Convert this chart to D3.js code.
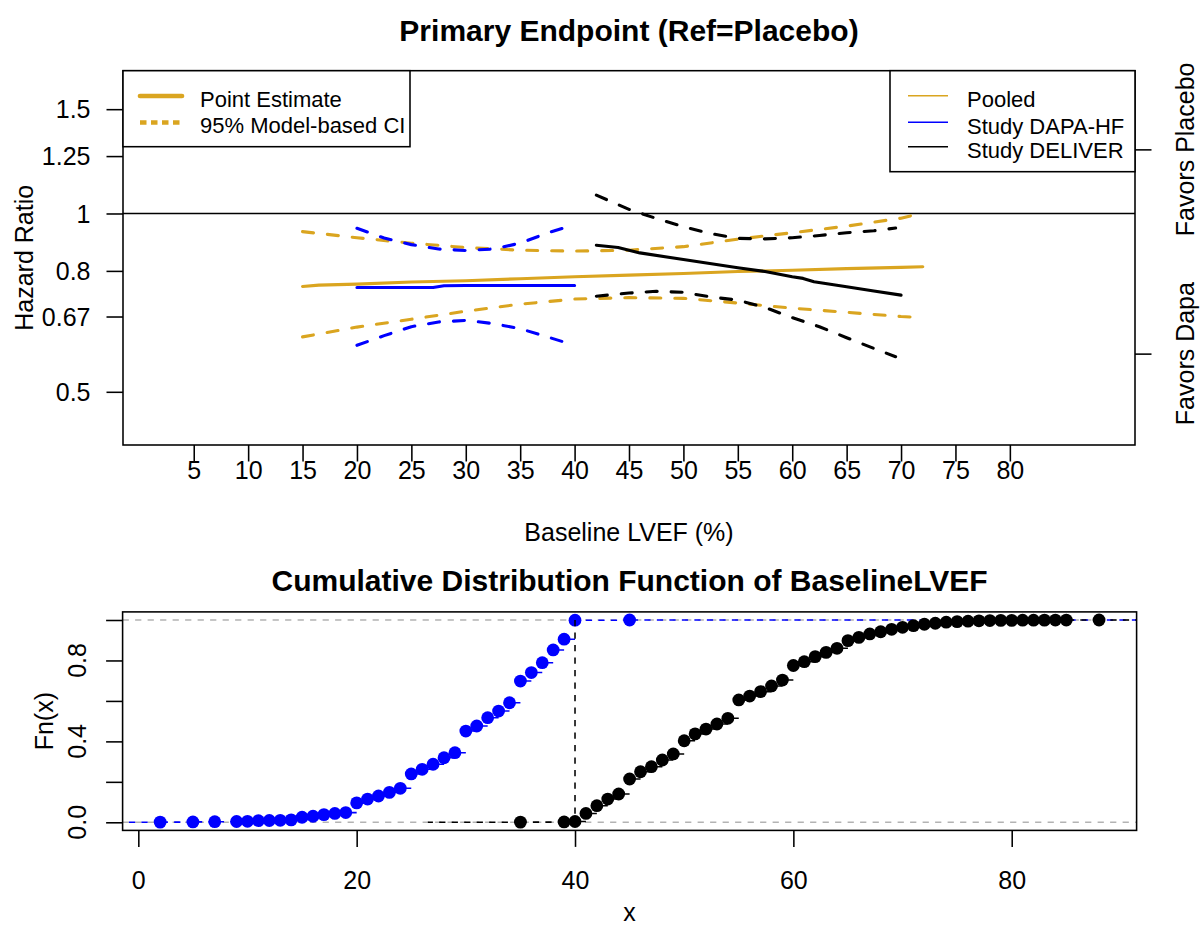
<!DOCTYPE html>
<html><head><meta charset="utf-8">
<script src="https://cdn.jsdelivr.net/npm/d3@7"></script>
<style>
body{margin:0;background:#fff}
svg{display:block;background:#fff}
text{font-family:"Liberation Sans",Arial,sans-serif;fill:#000}
</style>
</head><body>
<svg id="c" width="1203" height="929"></svg>
<script>
// ---------- Top panel data ----------
const hrTicks = [0.5, 0.67, 0.8, 1, 1.25, 1.5];
const hrTickLabels = ["0.5", "0.67", "0.8", "1", "1.25", "1.5"];
const lvefTicks = [5,10,15,20,25,30,35,40,45,50,55,60,65,70,75,80];
const favorsTicks = [1.283, 0.58];
const favorsLabels = ["Favors Placebo", "Favors Dapa"];

const pooledX  = [15,16.5,20,25,30,35,40,45,50,55,60,65,70,72];
const pooledHR = [0.753,0.757,0.760,0.766,0.770,0.776,0.782,0.787,0.792,0.798,0.802,0.807,0.811,0.813];
const pooledCIX = [15,20,25,30,35,40,45,50,55,60,65,70,72];
const pooledLo = [0.619,0.643,0.663,0.684,0.703,0.717,0.721,0.719,0.706,0.692,0.681,0.670,0.667];
const pooledHi = [0.932,0.910,0.891,0.876,0.867,0.864,0.867,0.879,0.905,0.928,0.952,0.982,1.002];

const dapaX  = [20,22.5,25,27,28,30,32.5,35,37.5,40];
const dapaHR = [0.750,0.750,0.750,0.750,0.755,0.756,0.756,0.756,0.756,0.756];
const dapaCIX = [20,22.5,25,27.5,30,32.5,35,37.5,40];
const dapaLo = [0.599,0.622,0.644,0.656,0.660,0.652,0.639,0.619,0.599];
const dapaHi = [0.944,0.909,0.886,0.871,0.866,0.871,0.891,0.927,0.958];

const deliverX  = [42,44,46,50,55,57.5,60,61,62,65,67.5,70];
const deliverHR = [0.884,0.876,0.858,0.836,0.810,0.798,0.782,0.777,0.767,0.752,0.740,0.728];
const deliverCIX = [42,45,47.5,50,52.5,55,57.5,60,62.5,65,67.5,69.5];
const deliverLo = [0.725,0.734,0.739,0.736,0.723,0.714,0.694,0.667,0.644,0.617,0.592,0.573];
const deliverHi = [1.074,1.016,0.981,0.950,0.925,0.908,0.906,0.910,0.918,0.928,0.935,0.945];

const legendLeftLabels = ["Point Estimate", "95% Model-based CI"];
const legendRightLabels = ["Pooled", "Study DAPA-HF", "Study DELIVER"];

// ---------- Bottom panel data ----------
const cdfXTicks = [0,20,40,60,80];
const cdfYTicks = [0,0.2,0.4,0.6,0.8,1];
const cdfYLabels = ["0.0","0.4","0.8"];
const cdfYLabelVals = [0,0.4,0.8];
const refLine = 40;

const dapaLVEF = [2,5,7,9,10,11,12,13,14,15,16,17,18,19,20,21,22,23,24,25,26,27,28,29,30,31,32,33,34,35,36,37,38,39,40,45];
const dapaFn   = [0.001,0.002,0.003,0.004,0.005,0.008,0.009,0.010,0.012,0.025,0.030,0.038,0.044,0.048,0.096,0.115,0.130,0.148,0.168,0.239,0.262,0.287,0.319,0.344,0.451,0.476,0.517,0.550,0.591,0.698,0.740,0.789,0.852,0.905,0.999,1.0];

const deliverLVEF = [35,39,40,41,42,43,44,45,46,47,48,49,50,51,52,53,54,55,56,57,58,59,60,61,62,63,64,65,66,67,68,69,70,71,72,73,74,75,76,77,78,79,80,81,82,83,84,85,88];
const deliverFn   = [0.001,0.002,0.004,0.044,0.082,0.115,0.140,0.214,0.250,0.275,0.308,0.338,0.403,0.437,0.461,0.486,0.514,0.605,0.624,0.646,0.674,0.703,0.775,0.794,0.819,0.840,0.860,0.898,0.914,0.931,0.942,0.954,0.964,0.972,0.979,0.984,0.989,0.992,0.994,0.996,0.997,0.998,0.998,0.999,0.999,0.9993,0.9995,0.9997,1.0];

// ---------- Styles ----------
const GOLD = "#DAA520", BLUE = "#0000FF", BLACK = "#000000";
const LW1 = 1.56, LW2 = 3.1, LW3 = 4.7;
const DASH2 = "11,14";
const DASH1 = "6.25,6.25";

const svg = d3.select("#c");
svg.append("rect").attr("width",1203).attr("height",929).attr("fill","#fff");

// ================= TOP PANEL =================
const P1 = {l:123, r:1135, t:70.7, b:445};
const x1 = d3.scaleLinear().domain([-1.5, 91.5]).range([P1.l, P1.r]);
const y1 = d3.scaleLog().domain([0.4066, 1.742]).range([P1.b, P1.t]);

svg.append("defs").append("clipPath").attr("id","clip1")
  .append("rect").attr("x",P1.l).attr("y",P1.t).attr("width",P1.r-P1.l).attr("height",P1.b-P1.t);
d3.select("defs").append("clipPath").attr("id","clip2")
  .append("rect").attr("x",122.6).attr("y",611.9).attr("width",1136.6-122.6).attr("height",830.4-611.9);

const g1 = svg.append("g").attr("clip-path","url(#clip1)");

// reference line HR = 1
g1.append("line").attr("x1",P1.l).attr("x2",P1.r).attr("y1",y1(1)).attr("y2",y1(1))
  .attr("stroke","#000").attr("stroke-width",LW1);

function drawLine(g, xs, ys, color, dashed){
  const line = d3.line().x((d,i)=>x1(xs[i])).y(d=>y1(d));
  g.append("path").datum(ys).attr("d",line).attr("fill","none")
    .attr("stroke",color).attr("stroke-width",LW2)
    .attr("stroke-linecap","round").attr("stroke-linejoin","round")
    .attr("stroke-dasharray", dashed ? DASH2 : null);
}
drawLine(g1, pooledX, pooledHR, GOLD, false);
drawLine(g1, pooledCIX, pooledLo, GOLD, true);
drawLine(g1, pooledCIX, pooledHi, GOLD, true);
drawLine(g1, dapaX, dapaHR, BLUE, false);
drawLine(g1, dapaCIX, dapaLo, BLUE, true);
drawLine(g1, dapaCIX, dapaHi, BLUE, true);
drawLine(g1, deliverX, deliverHR, BLACK, false);
drawLine(g1, deliverCIX, deliverLo, BLACK, true);
drawLine(g1, deliverCIX, deliverHi, BLACK, true);

// left axis
const yAxis1 = d3.axisLeft(y1).tickValues(hrTicks).tickFormat((d,i)=>hrTickLabels[i]).tickSize(16.5).tickPadding(16);
const ya1 = svg.append("g").attr("transform",`translate(${P1.l},0)`).call(yAxis1);
ya1.select(".domain").remove();
ya1.selectAll("line").attr("stroke","#000").attr("stroke-width",LW1);
ya1.selectAll("text").attr("font-size",25).attr("dy","0.35em").style("font-family","Liberation Sans, Arial, sans-serif");

// bottom axis
const xAxis1 = d3.axisBottom(x1).tickValues(lvefTicks).tickFormat(d3.format("d")).tickSize(16.5).tickPadding(0);
const xa1 = svg.append("g").attr("transform",`translate(0,${P1.b})`).call(xAxis1);
xa1.select(".domain").remove();
xa1.selectAll("line").attr("stroke","#000").attr("stroke-width",LW1);
xa1.selectAll("text").attr("font-size",25).attr("y",25).attr("dy","0.35em").style("font-family","Liberation Sans, Arial, sans-serif");

// right axis
const yAxisR = d3.axisRight(y1).tickValues(favorsTicks).tickFormat("").tickSize(16.5);
const yr = svg.append("g").attr("transform",`translate(${P1.r},0)`).call(yAxisR);
yr.select(".domain").remove();
yr.selectAll("line").attr("stroke","#000").attr("stroke-width",LW1);
favorsTicks.forEach((v,i)=>{
  svg.append("text").attr("transform",`translate(1185,${y1(v)}) rotate(-90)`)
    .attr("text-anchor","middle").attr("dy","0.35em").attr("font-size",25).text(favorsLabels[i]);
});

// box
svg.append("rect").attr("x",P1.l).attr("y",P1.t).attr("width",P1.r-P1.l).attr("height",P1.b-P1.t)
  .attr("fill","none").attr("stroke","#000").attr("stroke-width",LW1);

// axis titles
svg.append("text").attr("transform",`translate(24,${(P1.t+P1.b)/2}) rotate(-90)`)
  .attr("text-anchor","middle").attr("dy","0.35em").attr("font-size",25).text("Hazard Ratio");
svg.append("text").attr("x",(P1.l+P1.r)/2).attr("y",532).attr("dy","0.35em")
  .attr("text-anchor","middle").attr("font-size",25).text("Baseline LVEF (%)");
svg.append("text").attr("x",(P1.l+P1.r)/2).attr("y",30).attr("dy","0.35em")
  .attr("text-anchor","middle").attr("font-size",30).attr("font-weight","bold").text("Primary Endpoint (Ref=Placebo)");

// legend left
svg.append("rect").attr("x",P1.l).attr("y",P1.t).attr("width",410-P1.l).attr("height",146.7-P1.t)
  .attr("fill","#fff").attr("stroke","#000").attr("stroke-width",LW1);
const legLY = [96, 122.5];
svg.append("line").attr("x1",140).attr("x2",182).attr("y1",legLY[0]).attr("y2",legLY[0])
  .attr("stroke",GOLD).attr("stroke-width",LW3).attr("stroke-linecap","round");
svg.append("line").attr("x1",140).attr("x2",182).attr("y1",legLY[1]).attr("y2",legLY[1])
  .attr("stroke",GOLD).attr("stroke-width",LW3).attr("stroke-dasharray","6.5,4.5");
legendLeftLabels.forEach((t,i)=>{
  svg.append("text").attr("x",200).attr("y",legLY[i]+3).attr("dy","0.35em").attr("font-size",22).text(t);
});

// legend right
svg.append("rect").attr("x",890).attr("y",P1.t).attr("width",P1.r-890).attr("height",171.7-P1.t)
  .attr("fill","#fff").attr("stroke","#000").attr("stroke-width",LW1);
const legRY = [95.7, 122.3, 146.7];
const legRColors = [GOLD, BLUE, BLACK];
legendRightLabels.forEach((t,i)=>{
  svg.append("line").attr("x1",908).attr("x2",948).attr("y1",legRY[i]).attr("y2",legRY[i])
    .attr("stroke",legRColors[i]).attr("stroke-width",LW1);
  svg.append("text").attr("x",967).attr("y",legRY[i]+3.5).attr("dy","0.35em").attr("font-size",22).text(t);
});

// ================= BOTTOM PANEL =================
const P2 = {l:122.6, r:1136.6, t:611.9, b:830.4};
const x2 = d3.scaleLinear().domain([-1.44, 91.44]).range([P2.l, P2.r]);
const y2 = d3.scaleLinear().domain([-0.04, 1.04]).range([P2.b, P2.t]);
const g2 = svg.append("g").attr("clip-path","url(#clip2)");

// grey reference lines
[0,1].forEach(v=>{
  g2.append("line").attr("x1",P2.l).attr("x2",P2.r).attr("y1",y2(v)).attr("y2",y2(v))
    .attr("stroke","#b3b3b3").attr("stroke-width",LW1).attr("stroke-dasharray",DASH1);
});

function drawECDF(xs, fs, color, leftEnd, rightEnd){
  const segs = [];
  segs.push([xs[0], leftEnd, 0]);
  for(let i=0;i<xs.length-1;i++) segs.push([xs[i+1], xs[i], fs[i]]);
  segs.push([rightEnd, xs[xs.length-1], fs[fs.length-1]]);
  g2.selectAll(null).data(segs).enter().append("line")
    .attr("x1",d=>x2(d[0])).attr("x2",d=>x2(d[1]))
    .attr("y1",d=>y2(d[2])).attr("y2",d=>y2(d[2]))
    .attr("stroke",color).attr("stroke-width",LW1).attr("stroke-dasharray",DASH1);
  g2.selectAll(null).data(xs).enter().append("circle")
    .attr("cx",d=>x2(d)).attr("cy",(d,i)=>y2(fs[i])).attr("r",6.4).attr("fill",color);
}
// R plot.stepfun extension: blue spans the whole plot, black uses its own range +- 2*dr
const xd = x2.domain();
drawECDF(dapaLVEF, dapaFn, BLUE, xd[0]-(xd[1]-xd[0]), xd[1]+(xd[1]-xd[0]));
const bRange = d3.max(deliverLVEF)-d3.min(deliverLVEF);
const bDiffs = d3.pairs(deliverLVEF).map(p=>p[1]-p[0]);
const bdr = Math.max(0.08*bRange, d3.median(bDiffs));
drawECDF(deliverLVEF, deliverFn, BLACK, d3.min(deliverLVEF)-2*bdr, d3.max(deliverLVEF)+2*bdr);

// vertical reference at 40
g2.append("line").attr("x1",x2(refLine)).attr("x2",x2(refLine)).attr("y1",y2(1)).attr("y2",P2.b)
  .attr("stroke","#000").attr("stroke-width",LW1).attr("stroke-dasharray",DASH1);

// axes
const xAxis2 = d3.axisBottom(x2).tickValues(cdfXTicks).tickFormat(d3.format("d")).tickSize(16.5).tickPadding(0);
const xa2 = svg.append("g").attr("transform",`translate(0,${P2.b})`).call(xAxis2);
xa2.select(".domain").remove();
xa2.selectAll("line").attr("stroke","#000").attr("stroke-width",LW1);
xa2.selectAll("text").attr("font-size",25).attr("y",50).attr("dy","0.35em").style("font-family","Liberation Sans, Arial, sans-serif");

const yAxis2 = d3.axisLeft(y2).tickValues(cdfYTicks).tickFormat("").tickSize(16.5);
const ya2 = svg.append("g").attr("transform",`translate(${P2.l},0)`).call(yAxis2);
ya2.select(".domain").remove();
ya2.selectAll("line").attr("stroke","#000").attr("stroke-width",LW1);
cdfYLabelVals.forEach((v,i)=>{
  svg.append("text").attr("transform",`translate(77,${y2(v)}) rotate(-90)`)
    .attr("text-anchor","middle").attr("dy","0.35em").attr("font-size",25).text(cdfYLabels[i]);
});

svg.append("rect").attr("x",P2.l).attr("y",P2.t).attr("width",P2.r-P2.l).attr("height",P2.b-P2.t)
  .attr("fill","none").attr("stroke","#000").attr("stroke-width",LW1);

svg.append("text").attr("transform",`translate(44,${(P2.t+P2.b)/2}) rotate(-90)`)
  .attr("text-anchor","middle").attr("dy","0.35em").attr("font-size",25).text("Fn(x)");
svg.append("text").attr("x",(P2.l+P2.r)/2).attr("y",912).attr("dy","0.35em")
  .attr("text-anchor","middle").attr("font-size",25).text("x");
svg.append("text").attr("x",(P2.l+P2.r)/2).attr("y",580).attr("dy","0.35em")
  .attr("text-anchor","middle").attr("font-size",30).attr("font-weight","bold")
  .text("Cumulative Distribution Function of BaselineLVEF");
</script>
</body></html>
